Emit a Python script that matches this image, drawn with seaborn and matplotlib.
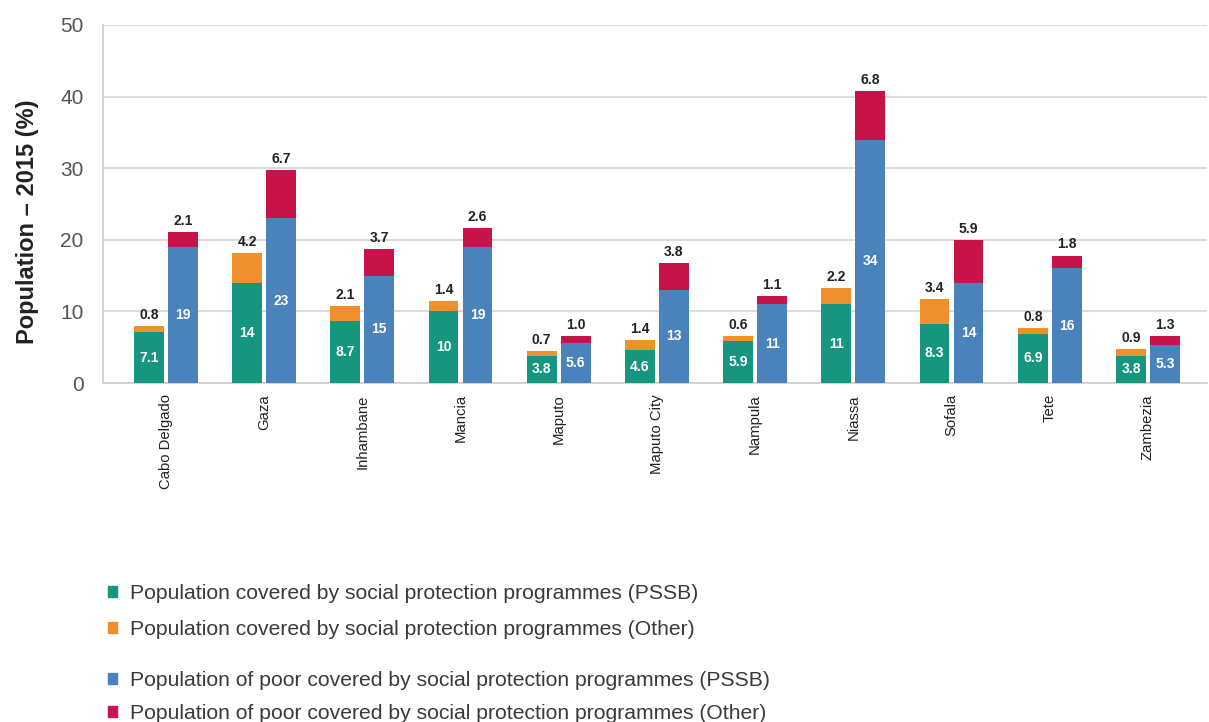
import pandas as pd
import matplotlib.pyplot as plt
import matplotlib.patches as mpatches
import seaborn as sns

# Values
regions = ["Cabo Delgado", "Gaza", "Inhambane", "Mancia", "Maputo", "Maputo City",
           "Nampula", "Niassa", "Sofala", "Tete", "Zambezia"]
pop_pssb = [7.1, 14, 8.7, 10, 3.8, 4.6, 5.9, 11, 8.3, 6.9, 3.8]
pop_other = [0.8, 4.2, 2.1, 1.4, 0.7, 1.4, 0.6, 2.2, 3.4, 0.8, 0.9]
poor_pssb = [19, 23, 15, 19, 5.6, 13, 11, 34, 14, 16, 5.3]
poor_other = [2.1, 6.7, 3.7, 2.6, 1.0, 3.8, 1.1, 6.8, 5.9, 1.8, 1.3]

legend_labels = [
    "Population covered by social protection programmes (PSSB)",
    "Population covered by social protection programmes (Other)",
    "Population of poor covered by social protection programmes (PSSB)",
    "Population of poor covered by social protection programmes (Other)",
]

teal, orange, blue, red = "#16967e", "#f0902c", "#4a83bb", "#c8124a"

df = pd.concat([
    pd.DataFrame({"region": regions, "group": "pop",
                  "base": pop_pssb, "top": pop_other}),
    pd.DataFrame({"region": regions, "group": "poor",
                  "base": poor_pssb, "top": poor_other}),
])
df["total"] = df["base"] + df["top"]

sns.set_theme(style="white")
plt.rcParams["font.family"] = ["Liberation Sans", "DejaVu Sans"]

fig = plt.figure(figsize=(12.09, 7.22), dpi=100)
ax = fig.add_axes([0.0852, 0.4695, 0.913, 0.496])

bar_kws = dict(data=df, x="region", hue="group", hue_order=["pop", "poor"],
               width=0.69, gap=0.12, dodge=True, legend=False, ax=ax,
               saturation=1, edgecolor="none", linewidth=0, zorder=3)
# totals first (top segment colours), then the PSSB part over them
sns.barplot(y="total", palette=[orange, red], **bar_kws)
sns.barplot(y="base", palette=[teal, blue], **bar_kws)

tops = [pop_other, poor_other]
bases = [pop_pssb, poor_pssb]
for i in range(2):
    ax.bar_label(ax.containers[i], labels=[f"{v:.1f}" for v in tops[i]],
                 padding=3, fontsize=10, fontweight="bold", color="#222222")
    ax.bar_label(ax.containers[i + 2], labels=[f"{v:g}" for v in bases[i]],
                 label_type="center", fontsize=10, fontweight="bold", color="white")

ax.set_ylim(0, 50)
ax.set_xlim(-0.64, 10.6)
ax.set_yticks(range(0, 51, 10))
ax.yaxis.grid(True, color="#d4d4d4", linewidth=1.2, zorder=0)
ax.set_axisbelow(True)
ax.tick_params(axis="y", labelsize=15, length=0, pad=14, labelcolor="#555555")
ax.tick_params(axis="x", labelsize=10.7, length=0, pad=8, labelcolor="#222222")
plt.setp(ax.get_xticklabels(), rotation=90)
ax.set_xlabel("")
ax.set_ylabel("Population – 2015 (%)", fontsize=17, fontweight="bold",
              color="#222222")
ax.yaxis.set_label_coords(-0.058, 0.45)
for side in ["top", "right"]:
    ax.spines[side].set_visible(False)
for side in ["left", "bottom"]:
    ax.spines[side].set_color("#cccccc")
    ax.spines[side].set_linewidth(1.2)

leg_kws = dict(loc="upper left", frameon=False, fontsize=15.2, borderpad=0,
               borderaxespad=0, handlelength=0.45, handleheight=0.45,
               handletextpad=0.6, labelcolor="#3a3a3a")
h1 = [mpatches.Patch(color=c) for c in (teal, orange)]
h2 = [mpatches.Patch(color=c) for c in (blue, red)]
fig.legend(h1, legend_labels[:2], bbox_to_anchor=(0.089, 0.191),
           labelspacing=0.8, **leg_kws)
fig.legend(h2, legend_labels[2:], bbox_to_anchor=(0.089, 0.071),
           labelspacing=0.68, **leg_kws)

fig.savefig("out.png", dpi=100)
